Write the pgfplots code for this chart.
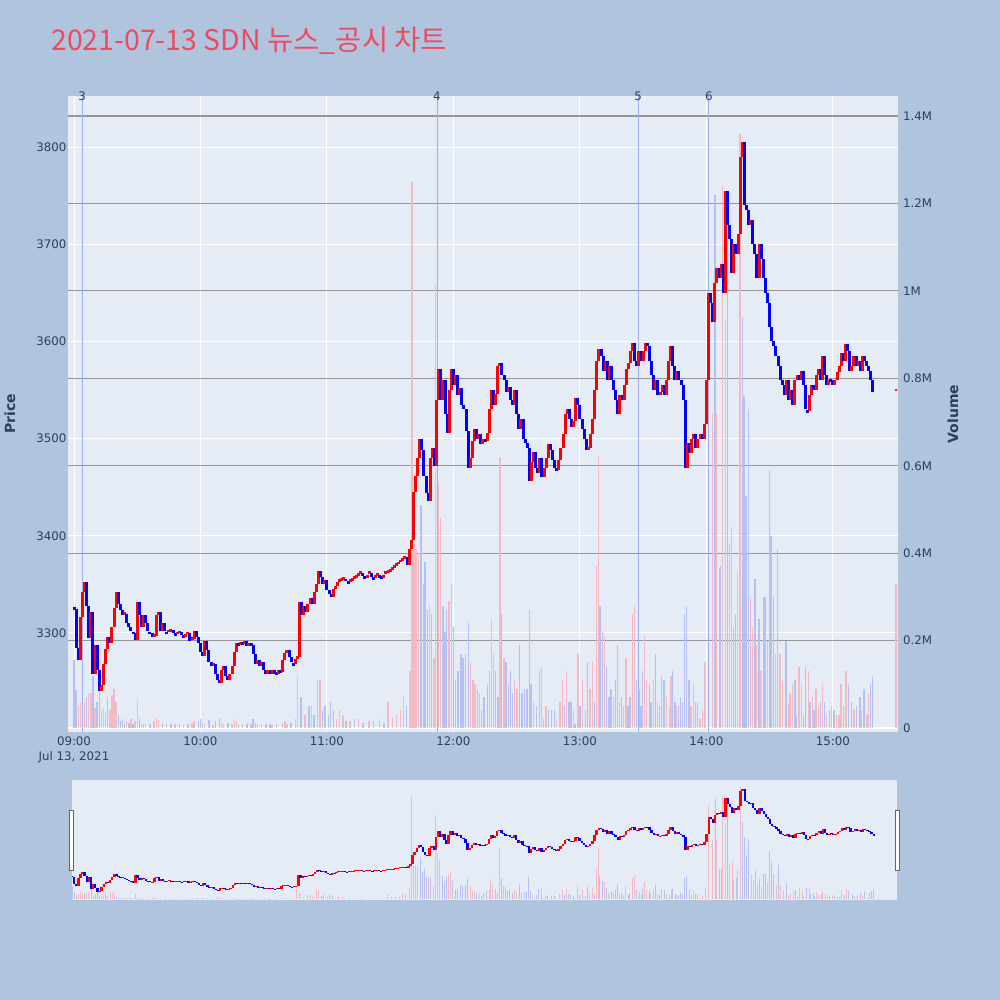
\documentclass[border=0pt]{standalone}
\usepackage{pgfplots}
\usepackage{pgfplotstable}
\pgfplotsset{compat=1.18}
\usepackage{fontspec}
\setmainfont{DejaVu Sans}
\newfontfamily\krfont{Noto Sans CJK KR}

\definecolor{pagebg}{RGB}{176,196,222}
\definecolor{plotbg}{RGB}{229,236,246}
\definecolor{tickc}{RGB}{42,63,95}
\definecolor{titlec}{RGB}{236,76,96}
\definecolor{volred}{RGB}{244,186,196}
\definecolor{volblue}{RGB}{182,192,242}
\definecolor{newsline}{RGB}{160,174,238}
\definecolor{vgrid}{RGB}{150,150,150}

% minute closes, 09:00 = 0
\pgfplotstableread{
t p
0 3325
1 3285
2 3272
3 3316
4 3342
5 3352
6 3328
7 3295
8 3322
9 3258
10 3288
11 3262
12 3240
13 3246
14 3268
15 3284
16 3296
17 3290
18 3306
19 3326
20 3342
21 3330
22 3324
23 3318
24 3320
25 3310
26 3306
27 3302
28 3300
29 3293
30 3332
31 3318
32 3306
33 3318
34 3310
35 3302
36 3300
37 3296
38 3297
39 3318
40 3322
41 3302
42 3310
43 3302
44 3300
45 3302
46 3303
47 3300
48 3298
49 3300
50 3301
51 3298
52 3296
53 3299
54 3300
55 3292
56 3294
57 3302
58 3296
59 3290
60 3280
61 3276
62 3292
63 3282
64 3270
65 3266
66 3268
67 3258
68 3252
69 3248
70 3262
71 3266
72 3256
73 3252
74 3258
75 3266
76 3280
77 3290
78 3288
79 3291
80 3289
81 3292
82 3287
83 3290
84 3288
85 3278
86 3268
87 3272
88 3266
89 3270
90 3262
91 3258
92 3262
93 3258
94 3262
95 3258
96 3258
97 3262
98 3260
99 3272
100 3279
101 3282
102 3275
103 3270
104 3268
105 3273
106 3275
107 3332
108 3318
109 3328
110 3322
111 3330
112 3336
113 3330
114 3342
115 3350
116 3364
117 3358
118 3350
119 3354
120 3344
121 3340
122 3337
123 3345
124 3348
125 3352
126 3354
127 3355
128 3356
129 3353
130 3352
131 3354
132 3355
133 3357
134 3358
135 3360
136 3362
137 3359
138 3357
139 3360
140 3362
141 3358
142 3356
143 3358
144 3360
145 3358
146 3357
147 3360
148 3362
149 3363
150 3364
151 3366
152 3368
153 3370
154 3372
155 3374
156 3376
157 3378
158 3370
159 3386
160 3396
161 3445
162 3462
163 3480
164 3500
165 3488
166 3462
167 3444
168 3436
169 3480
170 3490
171 3472
172 3540
173 3572
174 3540
175 3560
176 3525
177 3506
178 3550
179 3572
180 3555
181 3565
182 3545
183 3552
184 3535
185 3530
186 3508
187 3470
188 3480
189 3498
190 3510
191 3500
192 3505
193 3494
194 3500
195 3498
196 3506
197 3530
198 3550
199 3535
200 3546
201 3575
202 3578
203 3565
204 3560
205 3548
206 3553
207 3540
208 3535
209 3550
210 3525
211 3510
212 3520
213 3500
214 3495
215 3490
216 3456
217 3476
218 3486
219 3470
220 3465
221 3480
222 3460
223 3470
224 3480
225 3494
226 3488
227 3478
228 3470
229 3468
230 3478
231 3490
232 3505
233 3525
234 3530
235 3520
236 3512
237 3518
238 3542
239 3535
240 3520
241 3510
242 3500
243 3488
244 3490
245 3505
246 3520
247 3550
248 3580
249 3592
250 3585
251 3570
252 3580
253 3560
254 3575
255 3560
256 3550
257 3540
258 3525
259 3545
260 3540
261 3555
262 3572
263 3578
264 3590
265 3598
266 3580
267 3575
268 3590
269 3580
270 3590
271 3598
272 3595
273 3580
274 3565
275 3550
276 3560
277 3545
278 3548
279 3555
280 3545
281 3560
282 3580
283 3595
284 3575
285 3560
286 3570
287 3560
288 3555
289 3540
290 3470
291 3495
292 3485
293 3500
294 3505
295 3490
296 3500
297 3505
298 3500
299 3515
300 3560
301 3650
302 3640
303 3620
304 3660
305 3675
306 3665
307 3680
308 3650
309 3755
310 3720
311 3705
312 3670
313 3700
314 3690
315 3710
316 3790
317 3805
318 3740
319 3735
320 3720
321 3725
322 3700
323 3690
324 3665
325 3700
326 3685
327 3665
328 3650
329 3640
330 3615
331 3600
332 3595
333 3585
334 3575
335 3560
336 3555
337 3545
338 3560
339 3540
340 3550
341 3535
342 3560
343 3565
344 3560
345 3570
346 3555
347 3530
348 3528
349 3545
350 3555
351 3550
352 3565
353 3572
354 3560
355 3585
356 3565
357 3555
358 3560
359 3560
360 3555
361 3560
362 3568
363 3575
364 3588
365 3580
366 3597
367 3590
368 3570
369 3575
370 3585
371 3575
372 3580
373 3570
374 3585
375 3580
376 3575
377 3570
378 3560
379 3548
}\price

% candle body: from previous close (o) by h, d = 1 for a rise
\pgfplotstablecreatecol[
  create col/assign/.code={%
    \getthisrow{p}\curp
    \getprevrow{p}\prvp
    \ifx\prvp\empty\let\prvp\curp\fi
    \pgfmathparse{abs(\curp-\prvp)<3 ? \curp-1.5 : \prvp}%
    \let\entry\pgfmathresult
    \pgfkeyslet{/pgfplots/table/create col/next content}\entry
  }]{o}\price
\pgfplotstablecreatecol[
  create col/assign/.code={%
    \getthisrow{p}\curp
    \getprevrow{p}\prvp
    \ifx\prvp\empty\let\prvp\curp\fi
    \pgfmathparse{abs(\curp-\prvp)<3 ? 3 : \curp-\prvp}%
    \let\entry\pgfmathresult
    \pgfkeyslet{/pgfplots/table/create col/next content}\entry
  }]{h}\price
\pgfplotstablecreatecol[
  create col/assign/.code={%
    \getthisrow{p}\curp
    \getprevrow{p}\prvp
    \ifx\prvp\empty\let\prvp\curp\fi
    \pgfmathparse{\curp>\prvp ? 1 : 0}%
    \let\entry\pgfmathresult
    \pgfkeyslet{/pgfplots/table/create col/next content}\entry
  }]{d}\price

% volume in millions
\pgfplotstableread{
t v
2 0.050
3 0.060
4 0.090
5 0.060
7 0.080
8 0.080
10 0.045
13 0.040
14 0.045
15 0.035
17 0.040
18 0.075
19 0.090
20 0.060
25 0.015
27 0.020
29 0.015
30 0.064
32 0.010
34 0.012
38 0.015
39 0.023
40 0.018
44 0.008
48 0.010
52 0.006
56 0.012
57 0.015
62 0.010
66 0.006
70 0.012
71 0.010
75 0.008
76 0.020
77 0.015
80 0.010
84 0.008
87 0.010
89 0.008
94 0.006
99 0.012
100 0.015
101 0.010
105 0.020
106 0.120
109.6 0.030
112.7 0.050
115.4 0.110
116.7 0.110
124.5 0.020
126 0.040
127.7 0.030
131 0.015
135 0.020
140 0.015
145 0.020
149 0.060
151 0.025
153 0.030
155 0.040
156.2 0.070
159.4 0.130
160.3 1.250
161.3 0.420
162.2 0.410
163.3 0.400
168.5 0.280
170.7 0.160
171.6 1.016
172.8 0.560
173.9 0.480
177.9 0.290
179 0.330
188.2 0.150
189.3 0.110
190.2 0.100
192.4 0.080
197.2 0.130
198 0.250
198.9 0.170
202 0.620
203.9 0.160
209.1 0.110
210.2 0.090
217.9 0.060
221.9 0.140
223.9 0.050
229 0.020
230.6 0.060
231.7 0.110
233.7 0.130
236.9 0.040
239 0.170
241.3 0.110
244.8 0.090
245.9 0.150
247.9 0.370
248.7 0.620
251.6 0.210
255.9 0.070
258.7 0.060
260.6 0.050
261.8 0.160
265 0.260
266 0.280
270.7 0.210
271.7 0.110
274.8 0.110
276.7 0.060
281.1 0.070
282.4 0.050
283.2 0.120
285.9 0.050
292.7 0.050
293.8 0.100
297 0.020
298.1 0.040
299.4 0.150
300.9 1.140
302.8 0.720
304.9 0.720
307.6 1.240
309.1 0.930
311 0.420
312 0.460
314.8 0.360
315.9 1.360
321 0.300
322 0.230
323.9 0.190
325.9 0.130
328.9 0.200
332.9 0.170
334.9 0.170
336.2 0.110
338.9 0.055
339.7 0.080
340.9 0.100
343.9 0.140
345.2 0.100
348.4 0.130
350.4 0.070
352 0.090
353.1 0.050
355 0.100
357.1 0.030
359.4 0.050
361.8 0.030
362.9 0.030
363.9 0.100
366.2 0.130
370 0.040
373.7 0.040
376.1 0.030
377 0.080
390 0.330
}\volup

\pgfplotstableread{
t v
0 0.156
1 0.087
6 0.070
9 0.120
11 0.060
12 0.090
16 0.070
21 0.030
22 0.015
23 0.020
24 0.010
26 0.012
28 0.010
31 0.020
33 0.008
36 0.010
42 0.012
46 0.008
50 0.010
54 0.008
59 0.014
60 0.020
61 0.012
64 0.018
67 0.015
69 0.023
73 0.012
78 0.006
82 0.008
85 0.020
86 0.012
91 0.010
93 0.008
96 0.010
103 0.012
107.7 0.070
111.5 0.050
113.8 0.030
117.9 0.040
119 0.050
120.6 0.030
121.7 0.060
123 0.040
129 0.015
133 0.020
137 0.012
142 0.015
147 0.012
157.8 0.050
164.6 0.510
165.7 0.330
166.5 0.380
167.6 0.270
169.6 0.260
175 0.280
176 0.220
176.8 0.270
180 0.230
181.1 0.110
182.2 0.130
183.5 0.170
184.6 0.160
185.8 0.170
187.1 0.240
191.3 0.090
193.4 0.040
194.5 0.070
196.1 0.100
200 0.130
201.1 0.070
202.8 0.260
205 0.150
206 0.100
207 0.130
208.1 0.080
211.4 0.190
212.5 0.080
213.8 0.090
214.9 0.090
216 0.270
216.8 0.100
219.5 0.050
220.7 0.130
222.6 0.020
225 0.040
226.6 0.040
227.9 0.040
232.6 0.050
234.8 0.060
235.8 0.060
237.7 0.010
240 0.050
242.7 0.040
243.7 0.150
246.8 0.060
249.5 0.280
250.6 0.220
252.7 0.140
253.8 0.070
254.8 0.090
257 0.110
257.7 0.190
259.8 0.070
262.9 0.050
263.7 0.070
266.9 0.110
268.2 0.090
269 0.050
269.8 0.130
272.9 0.100
273.7 0.060
275.8 0.170
277.7 0.050
278.8 0.120
279.9 0.110
284 0.130
285.1 0.060
286.7 0.050
287.8 0.070
288.7 0.060
289.7 0.260
290.6 0.280
291.7 0.110
294.9 0.060
295.7 0.060
304 1.220
306.1 0.365
306.8 0.370
310 1.190
312.8 0.230
313.9 0.260
317 0.940
317.8 0.760
318.8 0.530
319.9 0.730
323.1 0.340
325 0.250
327 0.300
327.8 0.300
329.9 0.590
330.7 0.440
331.7 0.300
333.8 0.410
337.7 0.200
342 0.110
342.8 0.030
346 0.030
347.1 0.140
349.2 0.060
351 0.040
354.2 0.060
356 0.060
358.3 0.040
360.6 0.040
365 0.050
367.3 0.100
368.9 0.060
371.3 0.050
372.9 0.070
374.8 0.090
377.9 0.100
378.9 0.120
}\voldown

\tikzset{tickfont/.style={font=\fontsize{11.8}{15}\selectfont, text=tickc}}
\pgfplotsset{
  mainbox/.style={at={(68pt,268pt)}, anchor=south west, scale only axis,
    width=830pt, height=636pt, xmin=-2.85, xmax=390.9,
    axis line style={draw=none}, tick style={draw=none}, clip mode=individual},
  minibox/.style={at={(72pt,100pt)}, anchor=south west, scale only axis,
    width=825pt, height=120pt, xmin=0, xmax=390, hide axis},
  updown/.style={colormap={updown}{color=(blue) color=(red)},
    point meta min=0, point meta max=1},
}

\begin{document}
\begin{tikzpicture}
\fill[pagebg] (0,0) rectangle (1000pt,1000pt);

\node[anchor=base west, text=titlec, inner sep=0pt,
  font=\krfont\fontsize{28.5}{28.5}\selectfont] at (51pt,949pt)
  {2021-07-13 SDN 뉴스\_공시 차트};

% price scale: background, white grid, left and bottom labels
\begin{axis}[mainbox,
  ymin=3198.1, ymax=3852.5,
  axis background/.style={fill=plotbg},
  ytick={3300,3400,3500,3600,3700,3800},
  yticklabels={3300,3400,3500,3600,3700,3800},
  xtick={0,60,120,180,240,300,360},
  xticklabels={{09:00\\Jul 13, 2021},10:00,11:00,12:00,13:00,14:00,15:00},
  ymajorgrids, xmajorgrids, grid style={white, line width=1pt},
  yticklabel style={tickfont, inner sep=0pt, xshift=-1.5pt},
  xticklabel style={tickfont, inner sep=0pt, yshift=-4.7pt, align=center},
]
\addplot[draw=none] coordinates {(0,3300)};
\end{axis}

% volume scale: gray grid, bars, news lines
\begin{axis}[mainbox,
  ymin=-0.0092, ymax=1.4459,
  ytick={0.2,0.4,0.6,0.8,1.0,1.2,1.4},
  yticklabels={0.2M,0.4M,0.6M,0.8M,1M,1.2M,1.4M},
  extra y ticks={0}, extra y tick labels={0},
  extra y tick style={grid style={white, line width=1.5pt}},
  ytick pos=right, yticklabel pos=right,
  xtick=\empty,
  ymajorgrids, grid style={vgrid, line width=1.2pt},
  yticklabel style={tickfont, inner sep=0pt, xshift=5pt},
]
\addplot[ycomb, volred, line width=1.4pt] table[x=t, y=v] {\volup};
\addplot[ycomb, volblue, line width=1.4pt] table[x=t, y=v] {\voldown};
\addplot[newsline, line width=1pt] coordinates {(3.8,-0.01) (3.8,1.4459)};
\addplot[newsline, line width=1pt] coordinates {(172.2,-0.01) (172.2,1.4459)};
\addplot[newsline, line width=1pt] coordinates {(267.6,-0.01) (267.6,1.4459)};
\addplot[newsline, line width=1pt] coordinates {(301.2,-0.01) (301.2,1.4459)};
\node[tickfont, inner sep=0pt] at (axis cs:3.8,1.4459) {3};
\node[tickfont, inner sep=0pt] at (axis cs:172.2,1.4459) {4};
\node[tickfont, inner sep=0pt] at (axis cs:267.6,1.4459) {5};
\node[tickfont, inner sep=0pt] at (axis cs:301.2,1.4459) {6};
\end{axis}

% price candles on top
\begin{axis}[mainbox, hide axis, ymin=3198.1, ymax=3852.5, updown]
\addplot[quiver={u=0, v=\thisrow{h}, colored}, arrows=-, line width=3pt,
  point meta=\thisrow{d}] table[x=t, y=o] {\price};
\addplot[only marks, mark=*, mark size=1pt, red] coordinates {(390,3550)};
\end{axis}

\node[rotate=90, text=tickc, font=\bfseries\fontsize{14}{14}\selectfont] at (10pt,586pt) {Price};
\node[rotate=90, text=tickc, font=\bfseries\fontsize{14}{14}\selectfont] at (953pt,586pt) {Volume};

% range slider
\begin{axis}[minibox, ymin=-0.0092, ymax=1.4459,
  axis background/.style={fill=plotbg}]
\addplot[ycomb, volred, line width=1pt] table[x=t, y=v] {\volup};
\addplot[ycomb, volblue, line width=1pt] table[x=t, y=v] {\voldown};
\end{axis}
\begin{axis}[minibox, ymin=3198.1, ymax=3852.5, updown]
\addplot[quiver={u=0, v=\thisrow{h}, colored}, arrows=-, line width=2.4pt,
  point meta=\thisrow{d}] table[x=t, y=o] {\price};
\end{axis}
\draw[fill=white, draw=gray!80!black, line width=0.8pt] (69.3pt,130pt) rectangle (73.3pt,190pt);
\draw[fill=white, draw=gray!80!black, line width=0.8pt] (895.3pt,130pt) rectangle (899.3pt,190pt);

\pgfresetboundingbox
\useasboundingbox (0,0) rectangle (1000pt,1000pt);
\end{tikzpicture}
\end{document}
